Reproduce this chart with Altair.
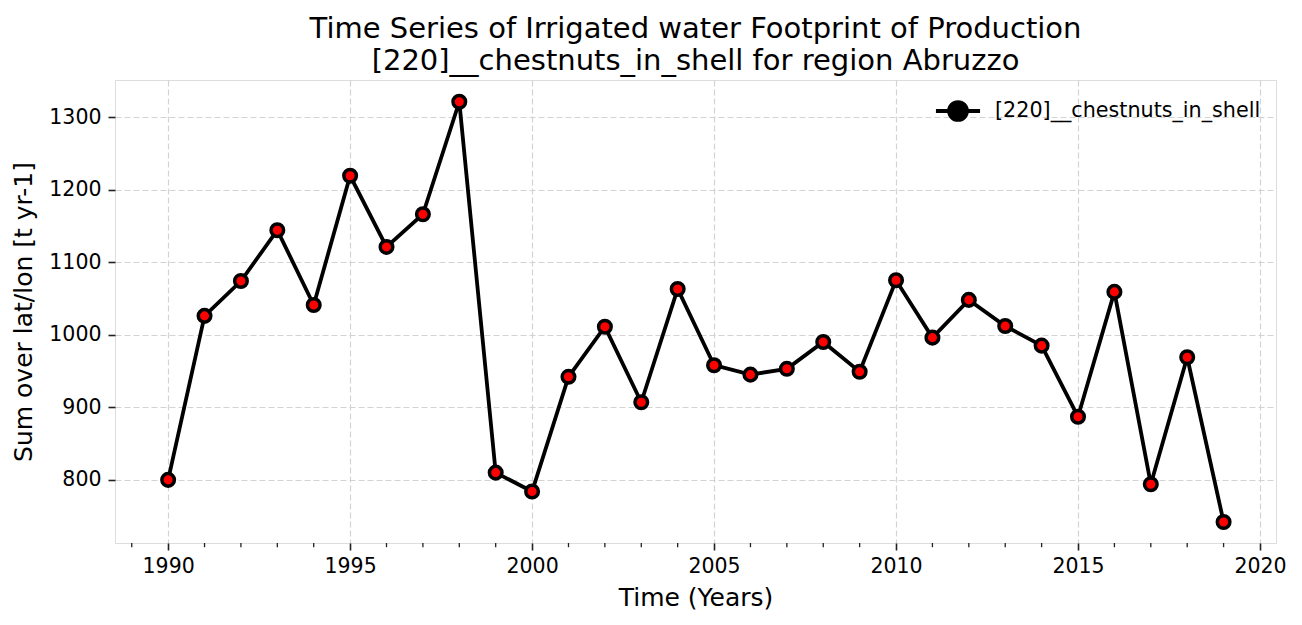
import altair as alt
import pandas as pd

years = list(range(1990, 2020))
values = [800, 1026, 1074, 1144, 1041, 1219, 1121, 1166, 1321, 810,
          784, 942, 1011, 907, 1063, 958, 945, 953, 990, 949,
          1075, 996, 1048, 1012, 985, 887, 1059, 794, 969, 742]
series_name = "[220]__chestnuts_in_shell"
major_ticks = [1990, 1995, 2000, 2005, 2010, 2015, 2020]
minor_ticks = [y for y in range(1989, 2021) if y % 5 != 0]
y_ticks = [800, 900, 1000, 1100, 1200, 1300]

df = pd.DataFrame({"year": years, "value": values, "series": series_name})

FONT = "DejaVu Sans"
W, H = 1161, 463
xscale = alt.Scale(domain=[1988.54, 2020.44], nice=False, zero=False)
yscale = alt.Scale(domain=[713, 1351], nice=False, zero=False)

legend_symbol = ("M-1.6,0H-0.65 M0.65,0H1.6 "
                 "M-0.65,0A0.65,0.65 0 1,0 0.65,0A0.65,0.65 0 1,0 -0.65,0Z")

axis_common = dict(grid=True, gridDash=[6, 3], gridColor="#d3d3d3",
                   gridWidth=1.2, tickSize=7, tickWidth=1.6, tickColor="#222",
                   domain=False, labelFontSize=20.5, titleFontSize=25,
                   labelColor="#000", titleColor="#000", titleFontWeight="normal",
                   labelFont=FONT, titleFont=FONT, format="d")

base = alt.Chart(df)

line = base.mark_line(strokeWidth=3.8).encode(
    x=alt.X("year:Q", scale=xscale,
            axis=alt.Axis(values=major_ticks, title="Time (Years)",
                          labelPadding=6, titlePadding=9, **axis_common)),
    y=alt.Y("value:Q", scale=yscale,
            axis=alt.Axis(values=y_ticks, title="Sum over lat/lon [t yr-1]",
                          labelPadding=7, titlePadding=12, **axis_common)),
    color=alt.Color("series:N", scale=alt.Scale(range=["black"]),
                    legend=alt.Legend(title=None, orient="top-right",
                                      symbolType=legend_symbol, symbolSize=760,
                                      symbolStrokeWidth=3.8,
                                      symbolFillColor="black",
                                      labelFontSize=20.7, labelFont=FONT,
                                      labelColor="#000", labelLimit=0, offset=11,
                                      padding=4, labelOffset=21)),
)

points = base.mark_point(filled=True, fill="red", stroke="black",
                         strokeWidth=3.5, size=158, opacity=1).encode(
    x=alt.X("year:Q", scale=xscale),
    y=alt.Y("value:Q", scale=yscale),
)

minor = alt.Chart(pd.DataFrame({"t": minor_ticks})).mark_rule(
    color="#222", strokeWidth=1.3).encode(
    x=alt.X("t:Q", scale=xscale),
    y=alt.value(H),
    y2=alt.value(H + 4.2),
)

chart = alt.layer(line, points, minor).properties(
    width=W, height=H,
    autosize=alt.AutoSizeParams(type="none"),
    padding={"left": 107, "top": 72, "right": 10, "bottom": 74},
    title=alt.TitleParams(
        ["Time Series of Irrigated water Footprint of Production",
         "[220]__chestnuts_in_shell for region Abruzzo"],
        fontSize=29, font=FONT, fontWeight="normal", color="#000",
        anchor="middle", offset=4, lineHeight=32),
).configure_view(stroke="#111", strokeWidth=1.6).configure(background="white")

chart.save("out.html", embed_options={"renderer": "svg", "actions": False})
